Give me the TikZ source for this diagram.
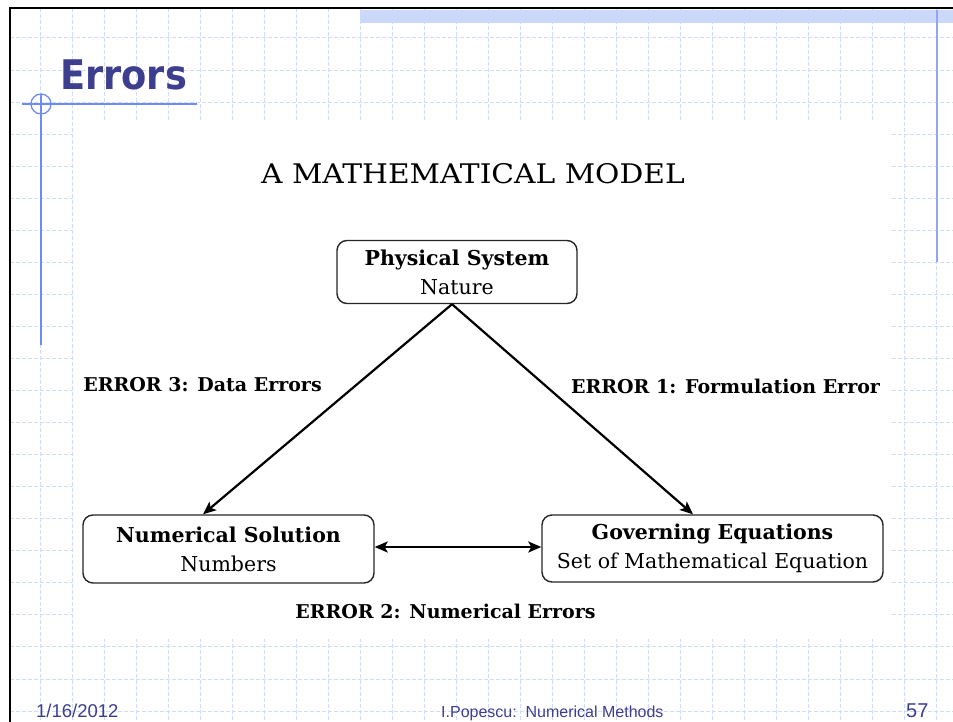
\documentclass[tikz,border=0pt]{standalone}
\usepackage{fontspec}
\setmainfont{DejaVu Serif}
\newfontfamily\titlefont{DejaVu Sans}
\newfontfamily\footfont{Liberation Sans}
\usetikzlibrary{arrows.meta,calc}
\definecolor{gridblue}{RGB}{208,218,252}
\definecolor{bandblue}{RGB}{204,216,250}
\definecolor{titleblue}{RGB}{62,62,142}
\definecolor{accentblue}{RGB}{110,138,245}
\definecolor{accentlight}{RGB}{145,165,240}
\begin{document}
\begin{tikzpicture}[x=1pt,y=-1pt,
  gridline/.style={draw=gridblue,line width=1pt,dash pattern=on 4pt off 2pt},
  modelbox/.style={draw=black!85,line width=1.4pt,rounded corners=10pt,inner sep=0pt,
    align=center,font=\fontsize{20.5}{29}\selectfont},
  errlabel/.style={inner sep=0pt,anchor=base,font=\bfseries\fontsize{19}{19}\selectfont},
  flow/.style={line width=2.2pt,-{Stealth[length=13pt,width=11pt,inset=3pt]}},
  twoway/.style={line width=2.2pt,{Stealth[length=13pt,width=11pt,inset=3pt]}-{Stealth[length=13pt,width=11pt,inset=3pt]}},
  footer/.style={inner sep=0pt,anchor=base west,text=titleblue}]
\useasboundingbox (0,0) rectangle (953,722);
\fill[white] (0,0) rectangle (953,722);
% slide grid
\foreach \i in {0,...,28}
  \draw[gridline] (40.5+32*\i,8) -- (40.5+32*\i,722);
\foreach \j in {0,...,21}
  \draw[gridline] (10,38+32.05*\j) -- (953,38+32.05*\j);
% content area
\fill[white] (73,122) rectangle (889,639);
% top band
\fill[bandblue] (360,10) rectangle (953,23.5);
% slide frame
\draw[line width=2.6pt,black] (10,722) -- (10,8) -- (953,8);
% accent lines
\draw[accentlight,line width=2pt] (937,10) -- (937,262);
\draw[accentblue,line width=2pt] (41,94) -- (41,345);
\draw[accentblue,line width=1.5pt] (22,104) -- (197,104);
\draw[accentblue,line width=1.3pt] (41,104) circle (10);
% title
\node[anchor=base west,inner sep=0pt,text=titleblue] (title) at (60,90)
  {\scalebox{0.92}[1.02]{\titlefont\bfseries\fontsize{40}{40}\selectfont Errors}};
\node[anchor=base,inner sep=0pt] (heading) at (473,184)
  {\scalebox{1.1}[1]{\fontsize{27}{27}\selectfont A MATHEMATICAL MODEL}};
% model boxes
\node[modelbox,minimum width=240pt,minimum height=63pt] (ps) at (457,272)
  {\textbf{Physical System}\\Nature};
\node[modelbox,minimum width=291pt,minimum height=68pt] (ns) at (228.5,549)
  {\textbf{Numerical Solution}\\Numbers};
\node[modelbox,minimum width=341pt,minimum height=67pt] (ge) at (712.5,548.5)
  {\textbf{Governing Equations}\\Set of Mathematical Equation};
% connectors
\coordinate (top) at ([xshift=-5pt]ps.south);
\draw[flow] (top) -- ([xshift=-25.5pt]ns.north);
\draw[flow] (top) -- ([xshift=-19.5pt]ge.north);
\draw[twoway] ([yshift=2pt]ns.east) -- ([yshift=2pt]ns.east -| ge.west);
% error labels
\node[errlabel] (e3) at (202.5,391) {ERROR 3: Data Errors};
\node[errlabel] (e1) at (725.5,393) {ERROR 1: Formulation Error};
\node[errlabel] (e2) at (445.5,618) {ERROR 2: Numerical Errors};
% footer
\node[footer,font=\footfont\fontsize{18.5}{18.5}\selectfont] (date) at (36,717) {1/16/2012};
\node[footer,font=\footfont\fontsize{16}{16}\selectfont] (author) at (441,717) {I.Popescu:\ \ Numerical Methods};
\node[footer,font=\footfont\fontsize{20}{20}\selectfont] (page) at (906,717) {57};
\end{tikzpicture}
\end{document}
